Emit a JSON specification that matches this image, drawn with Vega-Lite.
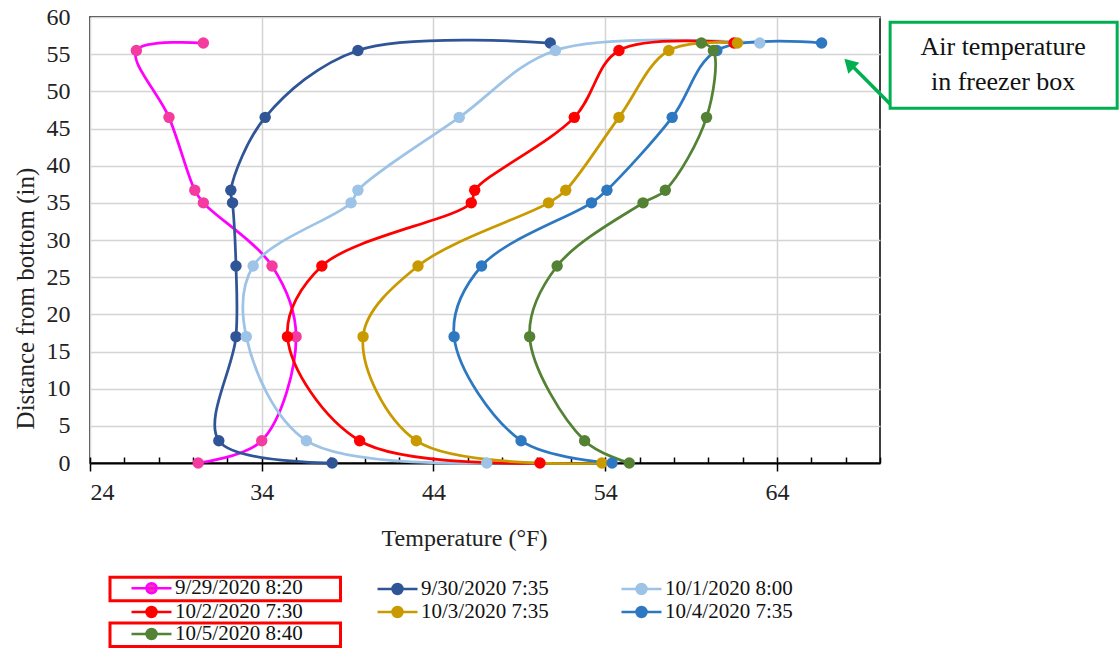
{
  "$schema": "https://vega.github.io/schema/vega-lite/v6.json",
  "width": 790,
  "height": 446,
  "autosize": {"type": "none"},
  "padding": {"left": 90, "top": 17, "right": 239, "bottom": 186},
  "background": "white",
  "config": {
    "font": "Liberation Serif",
    "view": {"stroke": "black", "strokeWidth": 1.5},
    "axis": {"labelFont": "Liberation Serif", "titleFont": "Liberation Serif", "labelColor": "#222222", "titleColor": "#222222", "titleFontWeight": "normal"}
  },
  "datasets": {
    "profiles": [
      {"series": "9/29/2020 8:20", "depth": 0, "temp": 30.3},
      {"series": "9/29/2020 8:20", "depth": 3, "temp": 34.0},
      {"series": "9/29/2020 8:20", "depth": 17, "temp": 36.0},
      {"series": "9/29/2020 8:20", "depth": 26.5, "temp": 34.6},
      {"series": "9/29/2020 8:20", "depth": 35, "temp": 30.6},
      {"series": "9/29/2020 8:20", "depth": 36.7, "temp": 30.1},
      {"series": "9/29/2020 8:20", "depth": 46.5, "temp": 28.6},
      {"series": "9/29/2020 8:20", "depth": 55.5, "temp": 26.7},
      {"series": "9/29/2020 8:20", "depth": 56.5, "temp": 30.6},
      {"series": "9/30/2020 7:35", "depth": 0, "temp": 38.1},
      {"series": "9/30/2020 7:35", "depth": 3, "temp": 31.5},
      {"series": "9/30/2020 7:35", "depth": 17, "temp": 32.5},
      {"series": "9/30/2020 7:35", "depth": 26.5, "temp": 32.5},
      {"series": "9/30/2020 7:35", "depth": 35, "temp": 32.3},
      {"series": "9/30/2020 7:35", "depth": 36.7, "temp": 32.2},
      {"series": "9/30/2020 7:35", "depth": 46.5, "temp": 34.2},
      {"series": "9/30/2020 7:35", "depth": 55.5, "temp": 39.6},
      {"series": "9/30/2020 7:35", "depth": 56.5, "temp": 50.8},
      {"series": "10/1/2020 8:00", "depth": 0, "temp": 47.1},
      {"series": "10/1/2020 8:00", "depth": 3, "temp": 36.6},
      {"series": "10/1/2020 8:00", "depth": 17, "temp": 33.1},
      {"series": "10/1/2020 8:00", "depth": 26.5, "temp": 33.5},
      {"series": "10/1/2020 8:00", "depth": 35, "temp": 39.2},
      {"series": "10/1/2020 8:00", "depth": 36.7, "temp": 39.6},
      {"series": "10/1/2020 8:00", "depth": 46.5, "temp": 45.5},
      {"series": "10/1/2020 8:00", "depth": 55.5, "temp": 51.1},
      {"series": "10/1/2020 8:00", "depth": 56.5, "temp": 63.0},
      {"series": "10/2/2020 7:30", "depth": 0, "temp": 50.2},
      {"series": "10/2/2020 7:30", "depth": 3, "temp": 39.7},
      {"series": "10/2/2020 7:30", "depth": 17, "temp": 35.5},
      {"series": "10/2/2020 7:30", "depth": 26.5, "temp": 37.5},
      {"series": "10/2/2020 7:30", "depth": 35, "temp": 46.2},
      {"series": "10/2/2020 7:30", "depth": 36.7, "temp": 46.4},
      {"series": "10/2/2020 7:30", "depth": 46.5, "temp": 52.2},
      {"series": "10/2/2020 7:30", "depth": 55.5, "temp": 54.8},
      {"series": "10/2/2020 7:30", "depth": 56.5, "temp": 61.5},
      {"series": "10/3/2020 7:35", "depth": 0, "temp": 53.8},
      {"series": "10/3/2020 7:35", "depth": 3, "temp": 43.0},
      {"series": "10/3/2020 7:35", "depth": 17, "temp": 39.9},
      {"series": "10/3/2020 7:35", "depth": 26.5, "temp": 43.1},
      {"series": "10/3/2020 7:35", "depth": 35, "temp": 50.7},
      {"series": "10/3/2020 7:35", "depth": 36.7, "temp": 51.7},
      {"series": "10/3/2020 7:35", "depth": 46.5, "temp": 54.8},
      {"series": "10/3/2020 7:35", "depth": 55.5, "temp": 57.7},
      {"series": "10/3/2020 7:35", "depth": 56.5, "temp": 61.7},
      {"series": "10/4/2020 7:35", "depth": 0, "temp": 54.4},
      {"series": "10/4/2020 7:35", "depth": 3, "temp": 49.1},
      {"series": "10/4/2020 7:35", "depth": 17, "temp": 45.2},
      {"series": "10/4/2020 7:35", "depth": 26.5, "temp": 46.8},
      {"series": "10/4/2020 7:35", "depth": 35, "temp": 53.2},
      {"series": "10/4/2020 7:35", "depth": 36.7, "temp": 54.1},
      {"series": "10/4/2020 7:35", "depth": 46.5, "temp": 57.9},
      {"series": "10/4/2020 7:35", "depth": 55.5, "temp": 60.5},
      {"series": "10/4/2020 7:35", "depth": 56.5, "temp": 66.6},
      {"series": "10/5/2020 8:40", "depth": 0, "temp": 55.4},
      {"series": "10/5/2020 8:40", "depth": 3, "temp": 52.8},
      {"series": "10/5/2020 8:40", "depth": 17, "temp": 49.6},
      {"series": "10/5/2020 8:40", "depth": 26.5, "temp": 51.2},
      {"series": "10/5/2020 8:40", "depth": 35, "temp": 56.2},
      {"series": "10/5/2020 8:40", "depth": 36.7, "temp": 57.5},
      {"series": "10/5/2020 8:40", "depth": 46.5, "temp": 59.9},
      {"series": "10/5/2020 8:40", "depth": 55.5, "temp": 60.3},
      {"series": "10/5/2020 8:40", "depth": 56.5, "temp": 59.6}
    ],
    "box": [{"temp": 70.59, "temp2": 83.81, "depth": 59.29, "depth2": 47.73}],
    "labels": [
      {"temp": 77.17, "depth": 55.95, "text": "Air temperature"},
      {"temp": 77.17, "depth": 51.24, "text": "in freezer box"}
    ],
    "arrow": [{"temp": 70.59, "temp2": 68.3, "depth": 48.3, "depth2": 53.6}],
    "head": [{"temp": 68.2, "depth": 53.75}]
  },
  "encoding": {
    "y": {"field": "depth", "type": "quantitative", "scale": {"domain": [0, 60], "nice": false, "zero": false},
      "axis": {"values": [0, 5, 10, 15, 20, 25, 30, 35, 40, 45, 50, 55, 60], "tickCount": 13, "grid": true, "gridColor": "#D4D4D4", "gridWidth": 1.5,
        "ticks": false, "tickSize": 0, "domain": false, "labelFontSize": 24, "labelPadding": 20, "labelOverlap": false,
        "title": "Distance from bottom (in)", "titleFontSize": 25, "titleX": -65, "titleY": 281, "titleBaseline": "middle", "titleAnchor": null}}
  },
  "layer": [
    {
      "data": {"name": "profiles"},
      "mark": {"type": "line", "interpolate": "catmull-rom", "strokeWidth": 2.75},
      "encoding": {
        "x": {"field": "temp", "type": "quantitative", "scale": {"domain": [24, 70], "nice": false, "zero": false},
          "axis": {"orient": "bottom", "values": [24, 34, 44, 54, 64], "grid": true, "gridColor": "#D4D4D4", "gridWidth": 1.5,
            "tickSize": 8, "tickColor": "black", "tickWidth": 1.5, "domainColor": "black", "domainWidth": 2,
            "labelFontSize": 24, "labelPadding": 9, "labelOverlap": false, "title": "Temperature (°F)", "titleFontSize": 24,
            "titleX": 374, "titleY": 75, "titleBaseline": "middle", "titleAnchor": null}},
        "order": {"field": "depth", "type": "quantitative"},
        "color": {"field": "series", "type": "nominal",
          "scale": {"domain": ["9/29/2020 8:20", "9/30/2020 7:35", "10/1/2020 8:00", "10/2/2020 7:30", "10/3/2020 7:35", "10/4/2020 7:35", "10/5/2020 8:40"],
            "range": ["#FF00FF", "#2F5597", "#9DC3E6", "#FF0000", "#C99A00", "#2E78C2", "#548235"]},
          "legend": {"orient": "none", "legendX": 20, "legendY": 560, "columns": 3, "direction": "horizontal", "title": null, "padding": 0,
            "symbolType": "M-1,0L1,0M-0.25,0A0.25,0.25,0,1,1,0.25,0A0.25,0.25,0,1,1,-0.25,0Z",
            "symbolSize": 1600, "symbolStrokeWidth": 2.5, "symbolOffset": 20, "labelOffset": 2,
            "labelFont": "Liberation Serif", "labelFontSize": 21, "labelColor": "#111111", "labelLimit": 300,
            "clipHeight": 22, "rowPadding": -2, "columnPadding": 15,
            "encode": {
              "symbols": {"update": {"fill": {"scale": "fill", "field": "value"}, "stroke": {"scale": "color", "field": "value"}, "strokeWidth": {"value": 2.5}}},
              "entries": {"update": {"width": {"value": 229}, "height": {"value": 22},
                "stroke": [{"test": "datum.index === 0 || datum.index === 6", "value": "#FF0000"}, {"value": null}],
                "strokeWidth": {"value": 3}}}
            }}}
      }
    },
    {
      "data": {"name": "profiles"},
      "mark": {"type": "circle", "size": 130, "opacity": 1},
      "encoding": {
        "x": {"field": "temp", "type": "quantitative", "scale": {"domain": [24, 70], "nice": false, "zero": false},
          "axis": {"orient": "bottom", "values": [24, 26, 28, 30, 32, 34, 36, 38, 40, 42, 44, 46, 48, 50, 52, 54, 56, 58, 60, 62, 64, 66, 68, 70],
            "grid": false, "labels": false, "domain": false, "tickSize": -6, "tickColor": "black", "tickWidth": 1.5, "title": null}},
        "fill": {"field": "series", "type": "nominal",
          "scale": {"domain": ["9/29/2020 8:20", "9/30/2020 7:35", "10/1/2020 8:00", "10/2/2020 7:30", "10/3/2020 7:35", "10/4/2020 7:35", "10/5/2020 8:40"],
            "range": ["#F43BA0", "#2F5597", "#9DC3E6", "#FF0000", "#C99A00", "#2E78C2", "#548235"]},
          "legend": null}
      }
    },
    {
      "data": {"name": "box"},
      "mark": {"type": "rect", "fill": "white", "stroke": "#00B050", "strokeWidth": 3},
      "encoding": {
        "x": {"field": "temp", "type": "quantitative", "scale": {"domain": [24, 70], "nice": false, "zero": false}, "axis": null},
        "x2": {"field": "temp2"},
        "y2": {"field": "depth2"}
      }
    },
    {
      "data": {"name": "labels"},
      "mark": {"type": "text", "font": "Liberation Serif", "fontSize": 26, "color": "#111111", "align": "center", "baseline": "middle"},
      "encoding": {
        "x": {"field": "temp", "type": "quantitative", "scale": {"domain": [24, 70], "nice": false, "zero": false}, "axis": null},
        "text": {"field": "text"}
      }
    },
    {
      "data": {"name": "arrow"},
      "mark": {"type": "rule", "color": "#00B050", "strokeWidth": 3.5},
      "encoding": {
        "x": {"field": "temp", "type": "quantitative", "scale": {"domain": [24, 70], "nice": false, "zero": false}, "axis": null},
        "x2": {"field": "temp2"},
        "y2": {"field": "depth2"}
      }
    },
    {
      "data": {"name": "head"},
      "mark": {"type": "point", "shape": "triangle-up", "filled": true, "color": "#00B050", "size": 240, "angle": -45, "opacity": 1},
      "encoding": {
        "x": {"field": "temp", "type": "quantitative", "scale": {"domain": [24, 70], "nice": false, "zero": false}, "axis": null}
      }
    }
  ],
  "resolve": {"axis": {"x": "independent"}}
}
